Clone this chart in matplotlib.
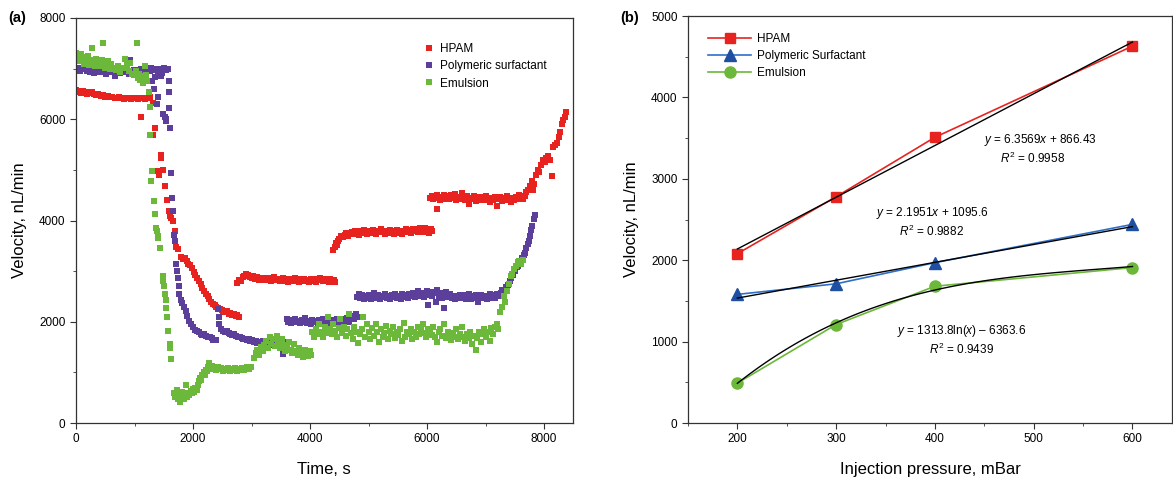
import numpy as np
import matplotlib
matplotlib.use("Agg")
import matplotlib.pyplot as plt
from matplotlib.ticker import MultipleLocator

plt.rcParams['font.family'] = ['Liberation Sans', 'DejaVu Sans']
plt.rcParams['mathtext.fontset'] = 'custom'
plt.rcParams['mathtext.rm'] = 'Liberation Sans'
plt.rcParams['mathtext.it'] = 'Liberation Sans:italic'

RED = '#e8231f'
PURPLE = '#5b3f9b'
GREEN = '#6cb83a'
BLUE = '#1f4fa0'
LBLUE = '#2f6fc8'

# ---- panel (a): velocity vs time ----
hpam_t = [0, 30, 60, 90, 120, 150, 180, 210, 240, 270, 300, 340, 380, 420, 460, 500, 540, 580, 620, 660,
          700, 740, 780, 820, 860, 900, 940, 980, 1020, 1060, 1100, 1140, 1180, 1220, 1260,
          1110, 1320, 1346, 1320, 1445, 1455, 1378, 1420, 1493, 1525, 1557, 1589, 1600, 1620, 1652, 1684, 1716, 1750,
          1800, 1830, 1860, 1890, 1920, 1950, 1980, 2010, 2040, 2070, 2100, 2130, 2160, 2190, 2220, 2250, 2280,
          2310, 2340, 2370, 2400, 2430, 2460, 2490, 2520, 2550, 2580, 2610, 2640, 2670, 2700, 2730, 2760, 2790,
          2760, 2790, 2820, 2850, 2880, 2910, 2940, 2970, 3000, 3030, 3060, 3090, 3120, 3150, 3180, 3210, 3240,
          3270, 3300, 3330, 3360, 3390, 3420, 3450, 3480, 3510, 3540, 3570, 3600, 3630, 3660, 3690, 3720, 3750,
          3780, 3810, 3840, 3870, 3900, 3930, 3960, 3990, 4020, 4050, 4080, 4110, 4140, 4170, 4200, 4230, 4260,
          4290, 4320, 4350, 4380, 4410, 4430,
          4400, 4420, 4440, 4460, 4480, 4500, 4530, 4560, 4590, 4620, 4650, 4680, 4710, 4740, 4770, 4800, 4830,
          4860, 4890, 4920, 4950, 4980, 5010, 5040, 5070, 5100, 5130, 5160, 5190, 5220, 5250, 5280, 5310, 5340,
          5370, 5400, 5430, 5460, 5490, 5520, 5550, 5580, 5610, 5640, 5670, 5700, 5730, 5760, 5790, 5820, 5850,
          5880, 5910, 5940, 5970, 6000, 6030, 6060, 6080,
          6050, 6080, 6110, 6140, 6170, 6170, 6200, 6230, 6260, 6290, 6320, 6350, 6380, 6410, 6440, 6470, 6500,
          6530, 6560, 6590, 6620, 6650, 6680, 6710, 6740, 6770, 6800, 6830, 6860, 6890, 6920, 6950, 6980, 7010,
          7040, 7070, 7100, 7130, 7160, 7190, 7220, 7250, 7280, 7310, 7340, 7370, 7400, 7430, 7460, 7490, 7520,
          7550, 7580, 7610, 7640, 7670, 7700, 7730, 7760, 7790, 7810, 7830, 7860, 7890, 7920, 7950, 7980, 8010,
          8040, 8070, 8100, 8130, 8160, 8190, 8220, 8250, 8280, 8300, 8330, 8360, 8380]
hpam_v = [6580, 6540, 6560, 6520, 6550, 6530, 6500, 6540, 6510, 6530, 6500, 6480, 6490, 6460, 6470, 6440, 6450, 6430, 6440, 6420,
          6410, 6430, 6420, 6400, 6420, 6410, 6400, 6420, 6410, 6400, 6420, 6410, 6400, 6420, 6430,
          6040, 6320, 5830, 5690, 5300, 5230, 4970, 4900, 5000, 4680, 4410, 4180, 4080, 4050, 3990, 3790, 3470, 3430,
          3270, 3240, 3250, 3200, 3150, 3120, 3060, 2990, 2920, 2870, 2800, 2740, 2670, 2610, 2550, 2500, 2450,
          2400, 2360, 2330, 2290, 2270, 2260, 2230, 2210, 2200, 2220, 2160, 2180, 2130, 2150, 2110, 2130, 2100,
          2760, 2830, 2800, 2880, 2900, 2940, 2920, 2880, 2860, 2900, 2850, 2880, 2830, 2870, 2840, 2820, 2870,
          2830, 2860, 2800, 2840, 2880, 2820, 2850, 2800, 2830, 2870, 2810, 2840, 2790, 2850, 2820, 2800, 2860,
          2820, 2790, 2840, 2810, 2850, 2800, 2830, 2780, 2850, 2810, 2840, 2790, 2830, 2870, 2820, 2800, 2850,
          2810, 2780, 2840, 2800, 2830, 2790,
          3420, 3480, 3560, 3520, 3600, 3640, 3700, 3680, 3720, 3760, 3700, 3740, 3780, 3730, 3800, 3760, 3720,
          3790, 3750, 3820, 3770, 3730, 3800, 3760, 3820, 3780, 3740, 3800, 3770, 3830, 3790, 3740, 3800, 3760,
          3810, 3780, 3730, 3790, 3820, 3760, 3800, 3740, 3790, 3830, 3770, 3810, 3760, 3840, 3790, 3830, 3780,
          3860, 3810, 3770, 3850, 3800, 3760, 3830, 3790,
          4440, 4480, 4420, 4460, 4230, 4500, 4450, 4400, 4470, 4510, 4430, 4480, 4420, 4500, 4450, 4520, 4410,
          4470, 4430, 4550, 4460, 4400, 4480, 4330, 4450, 4420, 4490, 4380, 4440, 4470, 4400, 4460, 4410, 4480,
          4430, 4370, 4450, 4400, 4470, 4280, 4420, 4460, 4390, 4450, 4410, 4480, 4420, 4360, 4450, 4400, 4470,
          4430, 4500, 4460, 4420, 4480, 4560, 4600, 4680, 4780, 4600, 4720, 4900, 5000, 4950, 5100, 5200, 5150,
          5230, 5280, 5200, 4880, 5450, 5500, 5540, 5650, 5750, 5900, 5980, 6050, 6150]

poly_t = [0, 30, 60, 90, 120, 150, 180, 210, 240, 270, 300, 330, 360, 390, 420, 450, 480, 510, 540, 570,
          600, 630, 660, 690, 720, 750, 780, 810, 840, 870, 900, 930, 960, 990, 1020, 1050, 1080, 1110, 1140,
          1170, 1200, 1230, 1260, 1290, 1320, 1350, 1380, 1410, 1440, 1470, 1500, 1530,
          1300, 1333, 1380, 1410, 1460, 1490, 1525, 1540, 1545, 1570, 1585, 1590, 1595, 1605, 1620, 1633, 1652,
          1671, 1697, 1716, 1730, 1748, 1760, 1767, 1790, 1812, 1840, 1876, 1900, 1940, 1970, 2003, 2030, 2067,
          2100, 2130, 2160, 2195, 2230, 2260, 2290, 2322, 2350, 2386, 2431, 2440, 2450, 2482, 2510, 2540, 2578,
          2610, 2640, 2670, 2705, 2740, 2770, 2800, 2833, 2860, 2890, 2920, 2950, 2980, 3010, 3040, 3070, 3100,
          3130, 3160, 3190, 3220, 3250, 3280, 3310, 3340, 3370, 3400, 3430, 3460, 3490, 3520, 3534, 3560, 3590,
          3600, 3620, 3650, 3680, 3710, 3740, 3770, 3800, 3830, 3860, 3890, 3920, 3950, 3980, 4010, 4040, 4070,
          4100, 4130, 4160, 4190, 4220, 4250, 4280, 4310, 4340, 4370, 4400, 4430, 4460, 4490, 4520, 4550, 4580,
          4610, 4640, 4670, 4700, 4730, 4760, 4790, 4810,
          4800, 4830, 4860, 4890, 4920, 4950, 4980, 5010, 5040, 5070, 5100, 5130, 5160, 5190, 5220, 5250, 5280,
          5310, 5340, 5370, 5400, 5430, 5460, 5490, 5520, 5550, 5580, 5610, 5640, 5670, 5700, 5730, 5760, 5790,
          5820, 5850, 5880, 5910, 5940, 5970, 6000, 6020, 6030, 6060, 6090, 6120, 6150, 6170, 6200, 6230, 6260,
          6290, 6300, 6330, 6360, 6390, 6420, 6450, 6480, 6510, 6540, 6570, 6600, 6630, 6660, 6690, 6720, 6750,
          6780, 6810, 6840, 6870, 6900, 6930, 6960, 6990, 7020, 7050, 7080, 7110, 7140, 7170, 7200, 7230, 7260,
          7290, 7320, 7350, 7380, 7410, 7440, 7470, 7500, 7530, 7560, 7590, 7620, 7650, 7680, 7700, 7720, 7740,
          7760, 7780, 7800, 7820, 7840]
poly_v = [6980, 7020, 6950, 7000, 7170, 6990, 6960, 7010, 6940, 6980, 6920, 6970, 7000, 6930, 6960, 6990, 6940, 6900, 6970, 6930,
          6990, 6950, 6860, 6940, 6980, 6920, 6960, 6930, 6990, 6950, 6900, 7170, 6940, 6970, 6930, 6980, 6950, 7000, 6970,
          6940, 7010, 6990, 6960, 7020, 6980, 6840, 7000, 6950, 6990, 6920, 7010, 6980,
          6750, 6600, 6300, 6440, 6850, 6100, 6050, 5960, 6000, 7000, 6750, 6540, 6220, 5820, 4940, 4450, 4180,
          3720, 3590, 3140, 3000, 2870, 2700, 2550, 2420, 2380, 2300, 2220, 2120, 2020, 1950, 1890, 1840, 1820,
          1790, 1760, 1740, 1760, 1720, 1700, 1690, 1680, 1640, 1630, 2250, 2100, 1960, 1860, 1820, 1800, 1820,
          1780, 1760, 1740, 1750, 1710, 1700, 1690, 1680, 1660, 1650, 1640, 1660, 1620, 1630, 1600, 1620, 1590,
          1600, 1570, 1610, 1580, 1560, 1600, 1570, 1590, 1550, 1580, 1600, 1560, 1590, 1570, 1360, 1600, 1580,
          2050, 2000, 2030, 1980, 2020, 2060, 1990, 2010, 1970, 2040, 2000, 2070, 1980, 2020, 1960, 2040, 1990,
          2010, 1950, 2030, 1980, 2050, 1990, 1930, 2020, 1980, 2040, 1970, 2010, 2060, 1990, 2030, 1970, 2050,
          2010, 2080, 2000, 2060, 2120, 2050, 2160, 2100,
          2480, 2540, 2460, 2520, 2450, 2510, 2470, 2530, 2440, 2500, 2560, 2470, 2520, 2450, 2510, 2480, 2540,
          2460, 2500, 2440, 2530, 2480, 2550, 2470, 2510, 2450, 2540, 2490, 2520, 2460, 2550, 2500, 2570, 2480,
          2530, 2600, 2510, 2560, 2490, 2550, 2600, 2340, 2520, 2580, 2500, 2560, 2400, 2620, 2510, 2570, 2470,
          2280, 2530, 2580, 2480, 2540, 2460, 2510, 2440, 2500, 2460, 2530, 2470, 2520, 2440, 2500, 2540, 2450,
          2510, 2470, 2530, 2400, 2480, 2530, 2460, 2510, 2440, 2500, 2550, 2470, 2520, 2460, 2540, 2500, 2570,
          2620, 2600, 2680, 2720, 2800, 2860, 2920, 3000, 3080, 3100, 3180, 3250, 3320, 3360, 3450, 3540, 3600,
          3700, 3820, 3900, 4020, 4100]

emul_t = [0, 20, 40, 60, 80, 100, 120, 140, 160, 180, 200, 220, 240, 260, 280, 300, 320, 340, 360, 380,
          400, 420, 440, 460, 480, 500, 520, 540, 560, 580, 600, 640, 680, 720, 760, 800, 840, 870, 900, 930,
          960, 990, 1020, 1050, 1060, 1080, 1100, 1120, 1140, 1160, 1180, 1200, 1220,
          1240, 1270, 1257, 1302, 1289, 1333, 1352, 1365, 1380, 1395, 1410, 1429, 1480, 1495, 1506, 1525, 1535,
          1544, 1557, 1576, 1601, 1610, 1620,
          1680, 1700, 1720, 1740, 1760, 1780, 1800, 1820, 1840, 1860, 1880, 1900, 1920, 1940, 1960, 1980, 2000,
          2020, 2040, 2060, 2080, 2100, 2120, 2140, 2160, 2180, 2200, 2220, 2240, 2260, 2280, 2300, 2330, 2360,
          2390, 2420, 2450, 2480, 2510, 2540, 2570, 2600, 2630, 2660, 2690, 2720, 2750, 2780, 2810, 2840, 2870,
          2900, 2930, 2960, 2990,
          3040, 3070, 3100, 3130, 3160, 3190, 3220, 3250, 3280, 3310, 3340, 3370, 3400, 3430, 3460, 3490, 3520,
          3550, 3580, 3610, 3640, 3670, 3700, 3730, 3760, 3790, 3820, 3850, 3880, 3910, 3940, 3970, 4000, 4020,
          4040, 4070, 4100, 4130, 4160, 4190, 4220, 4250, 4280, 4310, 4340, 4370, 4400, 4430, 4460, 4490, 4520,
          4550, 4580, 4610, 4640, 4670, 4700, 4730, 4760, 4790, 4820, 4850, 4880, 4910, 4940, 4970, 5000, 5030,
          5060, 5090, 5120, 5150, 5180, 5210, 5240, 5270, 5300, 5330, 5360, 5390, 5420, 5450, 5480, 5510, 5540,
          5570, 5600, 5630, 5660, 5690, 5720, 5750, 5780, 5810, 5840, 5870, 5900, 5930, 5960, 5990, 6020, 6050,
          6080, 6110, 6140, 6170, 6200, 6230, 6260, 6290, 6320, 6350, 6380, 6410, 6440, 6470, 6500, 6530, 6560,
          6590, 6620, 6650, 6680, 6710, 6740, 6770, 6800, 6830, 6860, 6890, 6920, 6950, 6980, 7010, 7040, 7070,
          7100, 7130, 7160, 7190, 7220, 7250, 7280, 7310, 7340, 7370, 7400, 7430, 7460, 7490, 7520, 7550, 7580,
          7610, 7640]
emul_v = [7300, 7200, 7250, 7150, 7280, 7180, 7230, 7100, 7200, 7150, 7250, 7080, 7180, 7120, 7400, 7150, 7050, 7200, 7100, 7160,
          7050, 7120, 7180, 7500, 7080, 7020, 7100, 7150, 7050, 7000, 7090, 7020, 6980, 7050, 6930, 7010, 7200, 7080, 6960, 7120,
          6900, 6880, 6950, 7500, 6820, 6900, 6780, 6850, 6720, 6800, 7050, 6880, 6760,
          6540, 6250, 5680, 4970, 4780, 4380, 4120, 3860, 3800, 3700, 3650, 3460, 2900, 2800, 2700, 2540, 2430,
          2280, 2090, 1820, 1560, 1480, 1260,
          600, 520, 650, 480, 570, 420, 530, 610, 480, 560, 750, 520, 600, 560, 640, 590, 680,
          620, 700, 650, 760, 830, 880, 850, 940, 1000, 950, 1050, 1020, 1100, 1180, 1060, 1120, 1080,
          1040, 1100, 1060, 1080, 1020, 1070, 1050, 1090, 1030, 1060, 1040, 1080, 1030, 1070, 1050, 1090, 1040,
          1070, 1110, 1060, 1100,
          1280, 1380, 1450, 1350, 1500, 1420, 1550, 1620, 1480, 1700, 1560, 1650, 1520, 1720, 1600, 1480, 1660,
          1550, 1420, 1500, 1600, 1450, 1380, 1560, 1420, 1350, 1480, 1400, 1300, 1450, 1380, 1320, 1420, 1350,
          1800, 1700, 1850, 1750, 1950, 1800, 1700, 1900, 1780, 2100, 1850, 1750, 1950, 1820, 1700, 1880, 2050,
          1780, 1900, 1720, 1850, 2150, 1780, 1650, 1900, 1800, 1580, 1750, 1850, 2100, 1700, 1950, 1800, 1650,
          1880, 1720, 1950, 1800, 1600, 1850, 1700, 1780, 1920, 1650, 1820, 1750, 1900, 1680, 1800, 1730, 1850,
          1620, 1980, 1700, 1800, 1760, 1850, 1650, 1800, 1700, 1900, 1760, 1850, 1950, 1780, 1700, 1860, 1800,
          1740, 1900, 1700, 1600, 1800, 1850, 1720, 1950, 1680, 1800, 1740, 1640, 1780, 1700, 1850, 1650, 1760,
          1900, 1700, 1620, 1750, 1680, 1800, 1560, 1720, 1450, 1680, 1800, 1600, 1750, 1850, 1700, 1800, 1620,
          1880, 1750, 1900, 1950, 1850, 2200, 2300, 2500, 2400, 2600, 2750, 2900, 2950, 3050, 3100, 3180, 3200,
          3150, 3220]

# ---- panel (b): velocity vs injection pressure ----
pressure = [200, 300, 400, 600]
hpam_b = [2080, 2780, 3510, 4630]
poly_b = [1580, 1710, 1970, 2440]
emul_b = [490, 1210, 1680, 1910]
hpam_fit = (6.3569, 866.43)
poly_fit = (2.1951, 1095.6)
# black trend curve through emulsion data as drawn in the figure
emul_curve_p = [200, 250, 300, 350, 400, 450, 500, 550, 600]
emul_curve_v = [490, 900, 1240, 1470, 1630, 1740, 1825, 1880, 1920]

fig = plt.figure(figsize=(11.73, 4.79), dpi=100)
ax1 = fig.add_axes([76 / 1173, 56 / 479, (572.7 - 76) / 1173, (423 - 18) / 479])
ax2 = fig.add_axes([688 / 1173, 56 / 479, (1172 - 688) / 1173, (423 - 16) / 479])

ms = 4.4
ax1.plot(hpam_t, hpam_v, ls='none', marker='s', ms=ms, mew=0, color=RED, label='HPAM')
ax1.plot(poly_t, poly_v, ls='none', marker='s', ms=ms, mew=0, color=PURPLE, label='Polymeric surfactant')
ax1.plot(emul_t, emul_v, ls='none', marker='s', ms=ms, mew=0, color=GREEN, label='Emulsion')
ax1.set_xlim(0, 8490)
ax1.set_ylim(0, 8000)
ax1.xaxis.set_major_locator(MultipleLocator(2000))
ax1.xaxis.set_minor_locator(MultipleLocator(1000))
ax1.yaxis.set_major_locator(MultipleLocator(2000))
ax1.yaxis.set_minor_locator(MultipleLocator(1000))
ax1.set_xlabel('Time, s', fontsize=12, labelpad=12)
ax1.set_ylabel('Velocity, nL/min', fontsize=12, labelpad=9)
ax1.legend(loc='upper right', frameon=False, fontsize=8.5, handlelength=0.6, handletextpad=0.6,
           borderaxespad=1.2, labelspacing=0.45, markerscale=1.0, bbox_to_anchor=(0.985, 0.985))
fig.text(8 / 1173, 1 - 18 / 479, '(a)', fontsize=10.5, fontweight='bold', va='center')

ax2.plot(pressure, hpam_b, color=RED, lw=1.2, marker='s', ms=7.5, label='HPAM')
ax2.plot(pressure, poly_b, color=LBLUE, lw=1.2, marker='^', ms=8.5, mfc=BLUE, mec=BLUE, label='Polymeric Surfactant')
ax2.plot(pressure, emul_b, color=GREEN, lw=1.2, marker='o', ms=8, label='Emulsion')
xf = np.array([200, 600])
ax2.plot(xf, hpam_fit[0] * xf + hpam_fit[1], color='black', lw=1.0)
ax2.plot(xf, poly_fit[0] * xf + poly_fit[1], color='black', lw=1.0)
cc = np.polyfit(emul_curve_p, emul_curve_v, 3)
xx = np.linspace(200, 600, 100)
ax2.plot(xx, np.polyval(cc, xx), color='black', lw=1.0)
ax2.set_xlim(150, 640)
ax2.set_ylim(0, 5000)
ax2.xaxis.set_major_locator(MultipleLocator(100))
ax2.xaxis.set_minor_locator(MultipleLocator(50))
ax2.set_xticks([200, 300, 400, 500, 600])
ax2.yaxis.set_major_locator(MultipleLocator(1000))
ax2.yaxis.set_minor_locator(MultipleLocator(500))
ax2.set_xlabel('Injection pressure, mBar', fontsize=12, labelpad=12)
ax2.set_ylabel('Velocity, nL/min', fontsize=12, labelpad=9)
ax2.legend(loc='upper left', frameon=False, fontsize=8.5, handlelength=3.6, handletextpad=0.5,
           labelspacing=0.45, bbox_to_anchor=(0.02, 0.985))
fig.text(620 / 1173, 1 - 18 / 479, '(b)', fontsize=10.5, fontweight='bold', va='center')

fs = 8.5
ax2.text(507, 3477, r'$y$ = 6.3569$x$ + 866.43', fontsize=fs, ha='center', va='center')
ax2.text(499, 3256, r'$R^2$ = 0.9958', fontsize=fs, ha='center', va='center')
ax2.text(397, 2583, r'$y$ = 2.1951$x$ + 1095.6', fontsize=fs, ha='center', va='center')
ax2.text(397, 2350, r'$R^2$ = 0.9882', fontsize=fs, ha='center', va='center')
ax2.text(427, 1134, r'$y$ = 1313.8ln($x$) – 6363.6', fontsize=fs, ha='center', va='center')
ax2.text(427, 909, r'$R^2$ = 0.9439', fontsize=fs, ha='center', va='center')

for ax in (ax1, ax2):
    ax.tick_params(which='both', direction='out', labelsize=8.5, color='#333333')
    ax.tick_params(which='major', length=4)
    ax.tick_params(which='minor', length=2.5)
    for s in ax.spines.values():
        s.set_linewidth(0.9)
        s.set_color('#333333')

fig.savefig('out.png', dpi=100)
